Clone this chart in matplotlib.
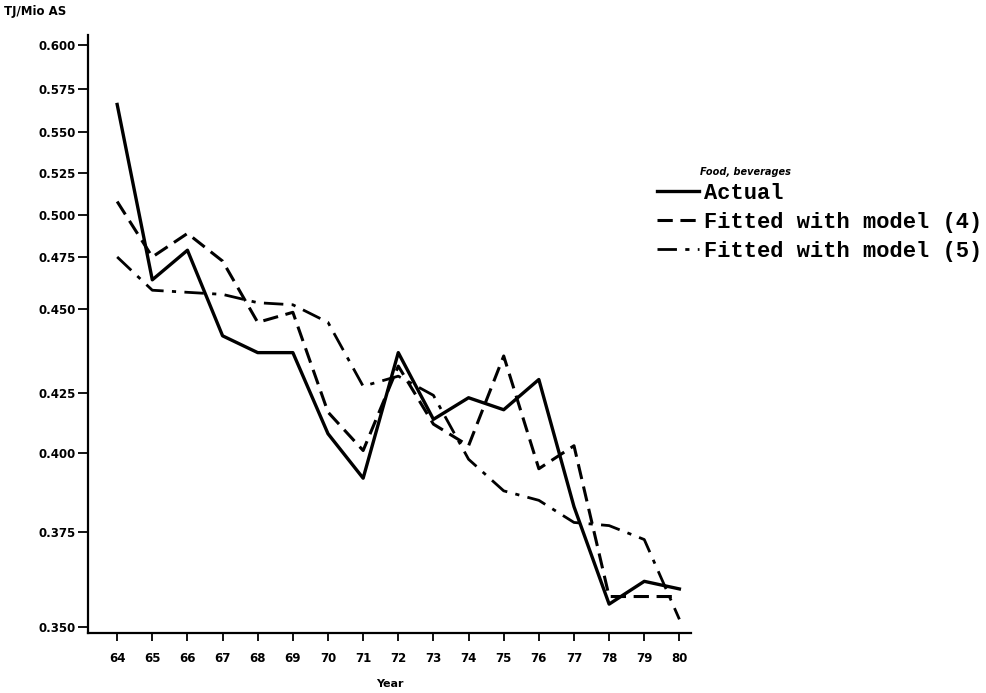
import numpy as np
import matplotlib.pyplot as plt

# Energy intensity, food and beverages (TJ per Mio AS)
years = np.arange(64, 81)
actual = [0.566, 0.464, 0.479, 0.442, 0.437, 0.437, 0.408, 0.392, 0.437, 0.414, 0.423,
          0.418, 0.429, 0.383, 0.356, 0.362, 0.360]
model_4 = [0.508, 0.475, 0.489, 0.473, 0.446, 0.449, 0.417, 0.401, 0.433, 0.412, 0.403,
           0.436, 0.395, 0.403, 0.358, 0.358, 0.358]
model_5 = [0.475, 0.459, 0.458, 0.457, 0.453, 0.452, 0.446, 0.427, 0.430, 0.424, 0.398,
           0.388, 0.385, 0.378, 0.377, 0.373, 0.352]

y_ticks = [0.350, 0.375, 0.400, 0.425, 0.450, 0.475, 0.500, 0.525, 0.550, 0.575, 0.600]
y_tick_labels = ['0.350', '0.375', '0.400', '0.425', '0.450', '0.475', '0.500',
                 '0.525', '0.550', '0.575', '0.600']

# the original axis is drawn by hand and is not linear: map values to drawn heights
scale_v = np.array([0.34, 0.350, 0.375, 0.400, 0.425, 0.450, 0.475, 0.500, 0.525,
                    0.550, 0.575, 0.600, 0.62])
scale_h = -np.array([665, 627, 532, 453, 393, 309, 257, 215, 173, 132, 89, 45, 10.0])


def forward(v):
    return np.interp(v, scale_v, scale_h)


def inverse(h):
    return np.interp(h, scale_h, scale_v)


fig = plt.figure(figsize=(9.87, 6.93), dpi=100)
ax = fig.add_axes([88/987, 60/693, 603/987, 598/693])
ax.set_yscale('function', functions=(forward, inverse))

l1, = ax.plot(years, actual, color='black', lw=2.4, label='Actual')
l2, = ax.plot(years, model_4, color='black', lw=2.2, linestyle=(0, (5, 2.5)),
              label='Fitted with model (4)')
l3, = ax.plot(years, model_5, color='black', lw=2.0, linestyle=(0, (7, 3, 1.5, 3)),
              label='Fitted with model (5)')

ax.set_xlim(63.17, 80.33)
ax.set_ylim(0.3484, 0.6057)
ax.set_xticks(years)
ax.set_xticklabels([str(y) for y in years], fontsize=8.5, fontweight='bold')
ax.set_yticks(y_ticks)
ax.set_yticklabels(y_tick_labels, fontsize=8.5, fontweight='bold')
ax.yaxis.set_minor_locator(plt.NullLocator())
ax.tick_params(axis='y', direction='out', length=7, width=1.3, pad=2)
ax.tick_params(axis='x', direction='out', length=6, width=1.3, pad=8)

for side in ['top', 'right']:
    ax.spines[side].set_visible(False)
for side in ['left', 'bottom']:
    ax.spines[side].set_linewidth(1.6)

ax.set_xlabel('Year', fontsize=8, fontweight='bold', labelpad=10)
fig.text(0.004, 0.983, 'TJ/Mio AS', fontsize=8.5, fontweight='bold', va='center')

fig.text(700/987, 1 - 172/693, 'Food, beverages', fontsize=7, fontweight='bold',
         fontstyle='italic', va='center')
leg = fig.legend(handles=[l1, l2, l3], loc='upper left', bbox_to_anchor=(657/987, 1 - 183/693),
                 frameon=False, prop={'family': 'Liberation Mono', 'weight': 'bold', 'size': 15.8},
                 handlelength=1.9, handletextpad=0.25, labelspacing=0.36,
                 borderpad=0, borderaxespad=0)

fig.savefig('out.png', dpi=100)
